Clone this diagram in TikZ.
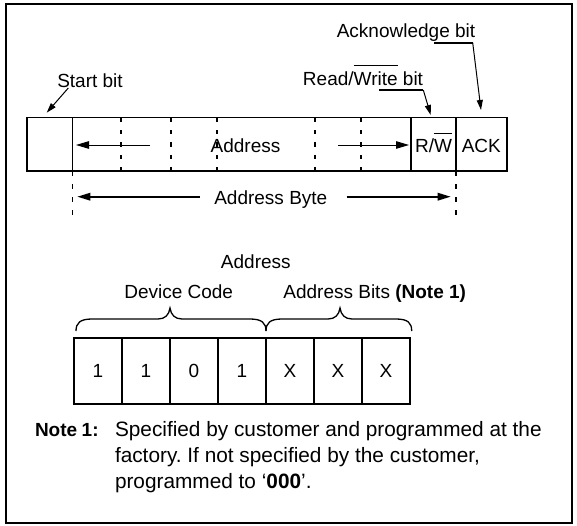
\documentclass[tikz,border=0pt]{standalone}
\usepackage{fontspec}
\setmainfont{Liberation Sans}
\usetikzlibrary{arrows.meta}
\newcommand{\myovl}[1]{\leavevmode\vbox{\hrule height 1.2pt\kern 5pt\hbox{#1}}}
\frenchspacing
\begin{document}
\begin{tikzpicture}[x=1pt,y=-1pt,
  font=\fontsize{19}{23}\selectfont,
  every node/.style={inner sep=0pt, outer sep=0pt},
  txt/.style={anchor=base},
  notetxt/.style={anchor=base west, font=\fontsize{20.8}{25}\selectfont},
  frame/.style={line width=2pt},
  cell/.style={draw, line width=1.6pt, minimum height=53.7pt, anchor=north west},
  box/.style={draw, line width=1.6pt, minimum height=66pt, minimum width=48pt},
  dashdiv/.style={line width=1.6pt, dash pattern=on 4.5pt off 8pt},
  arr/.style={-{Triangle[length=13pt,width=7.5pt]}, line width=1pt},
  arrs/.style={-{Triangle[length=10pt,width=6pt]}, line width=1pt},
  barr/.style={-{Triangle[length=13pt,width=7.5pt]}, line width=1.6pt},
  lead/.style={line width=2.4pt},
  brace/.style={line width=1.3pt}
]
\useasboundingbox (0,0) rectangle (577,525);
\draw[frame] (6,4) rectangle (572,523);

% top bar
\node[cell, minimum width=45.6pt] (c0) at (26.7,117.3) {};
\node[cell, minimum width=338.7pt] (c1) at (72.3,117.3) {};
\node[cell, minimum width=45pt] (c2) at (411,117.3) {};
\node[cell, minimum width=50.7pt] (c3) at (456,117.3) {};
\foreach \x in {121,171,216.7,315,361}
  \draw[dashdiv] (\x,117.3) -- (\x,171);

\node[txt] (addr) at (245.5,152) {Address};
\node[txt] (rw) at (433.5,152) {R/\myovl{W}};
\node[txt] (ack) at (481.3,152) {ACK};

\coordinate (al0) at (150,145);
\coordinate (al1) at (76,145);
\coordinate (ar0) at (338.3,145);
\coordinate (ar1) at (409,145);
\draw[arr] (al0) -- (al1);
\draw[arr] (ar0) -- (ar1);

% address byte
\draw[dashdiv, dash pattern=on 5pt off 8pt] (c1.south west) -- ++(0,50);
\draw[dashdiv, dash pattern=on 5pt off 8pt] (c3.south west) -- ++(0,50);
\node[txt] (abyte) at (270.8,204) {Address Byte};
\coordinate (bl0) at (200,196.7);
\coordinate (bl1) at (77.3,196.7);
\coordinate (br0) at (346.7,196.7);
\coordinate (br1) at (450.7,196.7);
\draw[barr] (bl0) -- (bl1);
\draw[barr] (br0) -- (br1);

% labels above
\node[txt] (start) at (90,87) {Start bit};
\coordinate (s0) at (68.3,88);
\coordinate (s1) at (46.7,112.7);
\draw[arrs] (s0) -- (s1);

\node[txt] (rwl) at (363,85) {Read/\myovl{Write} bit};
\coordinate (rw0) at (379.3,90);
\coordinate (rw1) at (423.3,90);
\coordinate (rw2) at (430.7,115);
\draw[lead] (rw0) -- (rw1);
\draw[arrs] (rw1) -- (rw2);

\node[txt] (ackl) at (406,37) {Acknowledge bit};
\coordinate (ak0) at (434,42.7);
\coordinate (ak1) at (472.7,42.7);
\coordinate (ak2) at (481,110);
\draw[lead] (ak0) -- (ak1);
\draw[arrs] (ak1) -- (ak2);

% lower part
\node[txt] (addr2) at (255.8,268.7) {Address};
\node[txt] (dev) at (178.7,298.7) {Device Code};
\node[txt] (abits) at (374.7,298.7) {Address Bits \textbf{(Note 1)}};

\draw[brace] (76,331) .. controls (76,323) and (80,319) .. (92,319) -- (158,319)
  .. controls (165,319) and (169,315) .. (170,308)
  .. controls (171,315) and (175,319) .. (182,319) -- (250,319)
  .. controls (262,319) and (266,323) .. (266,331);
\draw[brace] (266,331) .. controls (266,323) and (270,319) .. (282,319) -- (328,319)
  .. controls (335,319) and (339,315) .. (340,308)
  .. controls (341,315) and (345,319) .. (352,319) -- (396,319)
  .. controls (408,319) and (411.7,323) .. (411.7,331);

\foreach \v [count=\i] in {1,1,0,1,X,X,X}
  \node[box] (b\i) at ({74+24+(\i-1)*48},371) {\v};

% note
\node[anchor=base west] (nlab) at (35,436) {\bfseries Note};
\node[anchor=base west] (nnum) at (81.7,436) {\bfseries 1:};
\node[notetxt] (n1) at (115,436) {Specified by customer and programmed at the};
\node[notetxt] (n2) at (115,462.7) {factory. If not specified by the customer,};
\node[notetxt] (n3) at (115,488.7) {programmed to `\textbf{000}'.};
\end{tikzpicture}
\end{document}
